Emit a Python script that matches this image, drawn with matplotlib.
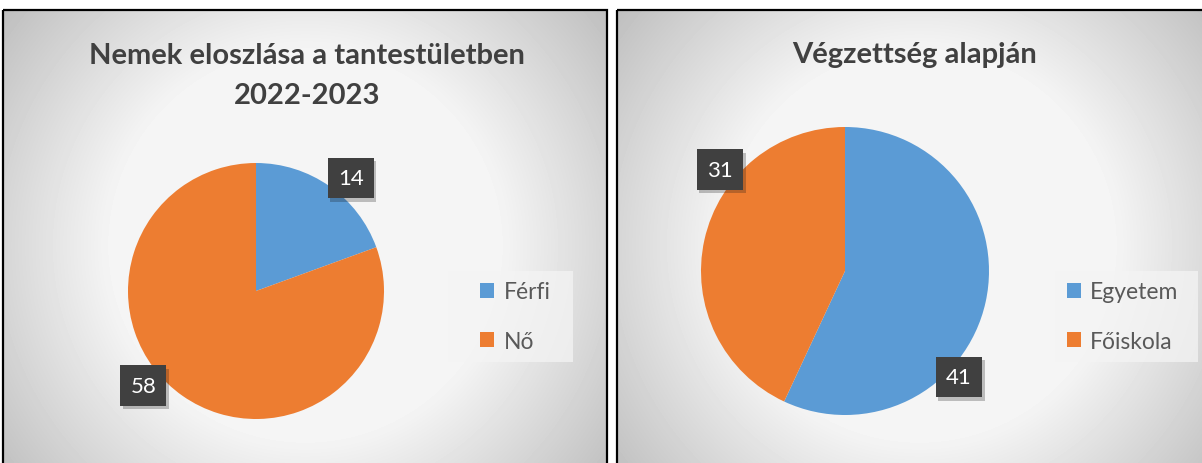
import numpy as np
import matplotlib
matplotlib.use("Agg")
import matplotlib.pyplot as plt
import matplotlib.patheffects as pe
from matplotlib.patches import Rectangle

plt.rcParams['font.family'] = ['Lato', 'DejaVu Sans']

# data
gender_labels = ['Férfi', 'Nő']
gender_values = [14, 58]
edu_labels = ['Egyetem', 'Főiskola']
edu_values = [41, 31]
titles = ['Nemek eloszlása a tantestületben\n2022-2023', 'Végzettség alapján']

colors = ['#5B9BD5', '#ED7D31']
title_gray = '#404040'
text_gray = '#595959'

W, H = 1202, 464
fig = plt.figure(figsize=(W / 100, H / 100), dpi=100)

# background: two panels with radial gray gradient
bg = fig.add_axes([0, 0, 1, 1])
img = np.ones((H, W))
yy, xx = np.mgrid[0:H, 0:W]
panels = [(3, 11, 604, 470), (617, 11, 604, 470)]
for (px, py, pw, ph) in panels:
    cx, cy = px + pw / 2, py + ph / 2
    d = np.hypot(xx - cx, yy - cy)
    c = np.clip(0.92 - (d - 230) * 0.00113, 0.72, 0.96)
    m = (xx >= px) & (xx <= px + pw) & (yy >= py) & (yy <= py + ph)
    img[m] = c[m]
bg.imshow(img, cmap='gray', vmin=0, vmax=1, extent=(0, W, H, 0), interpolation='bilinear')
for (px, py, pw, ph) in panels:
    bg.add_patch(Rectangle((px, py), pw, ph, fill=False, ec='black', lw=1.6))
bg.set_xlim(0, W)
bg.set_ylim(H, 0)
bg.axis('off')


def pie_panel(cx, cy, r, values, labels, label_pos, title, tx, legend_box, legend_x):
    ax = fig.add_axes([(cx - r) / W, (H - cy - r) / H, 2 * r / W, 2 * r / H])
    wedges, _ = ax.pie(values, colors=colors, startangle=90, counterclock=False,
                       wedgeprops=dict(linewidth=0))
    ax.set_xlim(-1, 1)
    ax.set_ylim(-1, 1)
    for v, (ang, dist) in zip(values, label_pos):
        x = dist * np.cos(np.radians(ang))
        y = dist * np.sin(np.radians(ang))
        t = ax.text(x, y, str(v), ha='center', va='center', fontsize=16, color='white',
                    zorder=5, bbox=dict(boxstyle='square,pad=0.46', fc='#404040', ec='none'))
        t.get_bbox_patch().set_path_effects(
            [pe.SimplePatchShadow(offset=(2, -2.5), alpha=0.25), pe.Normal()])
    # last line baseline
    nlines = title.count('\n') + 1
    base = 63 + 41 * (nlines - 1)
    fig.text(tx / W, 1 - base / H, title, ha='center', va='baseline', fontsize=21,
             fontweight='bold', color=title_gray, linespacing=1.68)
    # legend box
    lx, ly, lw, lh = legend_box
    bg.add_patch(Rectangle((lx, ly), lw, lh, fc='#f4f4f4', ec='none', alpha=0.75))
    leg = fig.legend(wedges, labels, loc='center left',
                     bbox_to_anchor=(legend_x / W, 1 - (ly + lh / 2) / H),
                     frameon=False, fontsize=16.5, labelspacing=1.25, handlelength=0.62,
                     handleheight=0.62, handletextpad=0.4, borderpad=0, borderaxespad=0)
    for t in leg.get_texts():
        t.set_color(text_gray)
    return ax


pie_panel(256, 292, 128, gender_values, gender_labels,
          [(50, 1.15), (220, 1.15)], titles[0], 307, (448, 272, 125, 91), 480)
pie_panel(845, 272, 144, edu_values, edu_labels,
          [(-43, 1.08), (141, 1.12)], titles[1], 915, (1055, 272, 143, 91), 1067)

fig.savefig('out.png', dpi=100)
